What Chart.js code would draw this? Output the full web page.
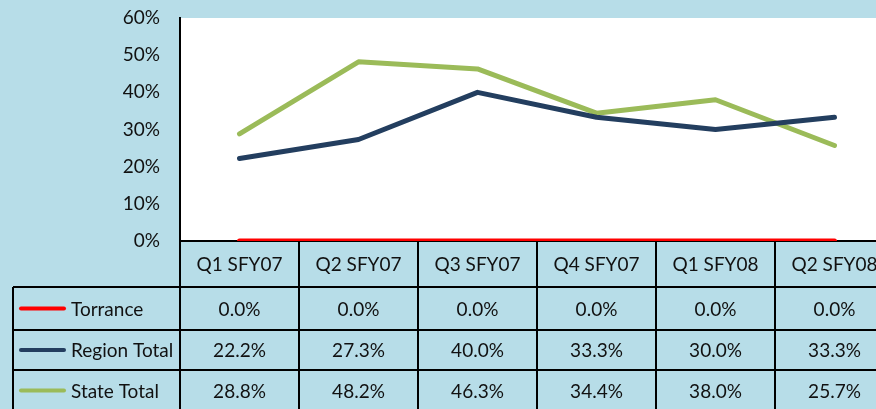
<!DOCTYPE html>
<html>
<head>
<meta charset="utf-8">
<script src="https://cdn.jsdelivr.net/npm/chart.js@4/dist/chart.umd.min.js"></script>
<style>
  html, body { margin: 0; padding: 0; background: #B7DDE8; overflow: hidden; }
  #wrap { width: 900px; height: 409px; }
</style>
</head>
<body>
<div id="wrap"><canvas id="chart" width="900" height="409"></canvas></div>
<script>
const quarters = ['Q1 SFY07', 'Q2 SFY07', 'Q3 SFY07', 'Q4 SFY07', 'Q1 SFY08', 'Q2 SFY08'];
const torrance = [0.0, 0.0, 0.0, 0.0, 0.0, 0.0];
const regionTotal = [22.2, 27.3, 40.0, 33.3, 30.0, 33.3];
const stateTotal = [28.8, 48.2, 46.3, 34.4, 38.0, 25.7];
const seriesNames = ['Torrance', 'Region Total', 'State Total'];
const seriesColors = ['#FF0000', '#233E5F', '#9BBB59'];

const FONT = 'Lato, "Open Sans", sans-serif';
const FONT_SIZE = 19;
const TEXT = '#111111';

// white plotting area on top of the blue page
const plotBackground = {
  id: 'plotBackground',
  beforeDraw(chart) {
    const { ctx, chartArea: a } = chart;
    ctx.save();
    ctx.fillStyle = '#FFFFFF';
    ctx.fillRect(a.left, a.top, a.right - a.left, a.bottom - a.top);
    ctx.restore();
  }
};

// data table under the x axis: header row with the quarters, then one row per series
const dataTable = {
  id: 'dataTable',
  afterDraw(chart) {
    const { ctx, chartArea: a, scales: { x } } = chart;
    const colW = (x.right - x.left) / quarters.length;
    const rowEdges = [a.bottom, a.bottom + 46, a.bottom + 89, a.bottom + 129, a.bottom + 170];
    const tableLeft = 13;

    ctx.save();
    ctx.strokeStyle = '#000000';
    ctx.lineWidth = 2;

    // vertical separators
    ctx.beginPath();
    for (let i = 0; i <= quarters.length; i++) {
      const px = Math.round(x.left + i * colW);
      ctx.moveTo(px, rowEdges[0]);
      ctx.lineTo(px, rowEdges[4]);
    }
    ctx.moveTo(tableLeft, rowEdges[1]);
    ctx.lineTo(tableLeft, rowEdges[4]);
    // horizontal separators
    for (let r = 1; r < rowEdges.length; r++) {
      ctx.moveTo(tableLeft, rowEdges[r]);
      ctx.lineTo(x.right, rowEdges[r]);
    }
    ctx.stroke();

    ctx.fillStyle = TEXT;
    ctx.font = FONT_SIZE + 'px ' + FONT;
    ctx.textBaseline = 'middle';
    ctx.textAlign = 'center';

    // header
    quarters.forEach((q, i) => {
      ctx.fillText(q, x.getPixelForValue(i), (rowEdges[0] + rowEdges[1]) / 2 + 1);
    });

    // series rows
    chart.data.datasets.forEach((ds, r) => {
      const cy = (rowEdges[r + 1] + rowEdges[r + 2]) / 2 + 1;
      ds.data.forEach((v, i) => {
        ctx.textAlign = 'center';
        ctx.fillText(v.toFixed(1) + '%', x.getPixelForValue(i), cy);
      });
      // legend key
      ctx.strokeStyle = ds.borderColor;
      ctx.lineWidth = 4;
      ctx.lineCap = 'round';
      ctx.beginPath();
      ctx.moveTo(21, cy - 1);
      ctx.lineTo(64, cy - 1);
      ctx.stroke();
      ctx.textAlign = 'left';
      ctx.fillText(ds.label, 71, cy);
    });
    ctx.restore();
  }
};

new Chart(document.getElementById('chart'), {
  type: 'line',
  data: {
    labels: quarters,
    datasets: [torrance, regionTotal, stateTotal].map((values, k) => ({
      label: seriesNames[k],
      data: values,
      borderColor: seriesColors[k],
      backgroundColor: seriesColors[k],
      borderWidth: 5,
      borderCapStyle: 'round',
      borderJoinStyle: 'round',
      pointRadius: 0,
      tension: 0
    }))
  },
  options: {
    responsive: false,
    animation: false,
    layout: { padding: { top: 18, right: 6, bottom: 0, left: 0 } },
    plugins: { legend: { display: false }, tooltip: { enabled: false } },
    scales: {
      x: {
        offset: true,
        grid: { display: false },
        border: { display: true, color: '#000000', width: 2 },
        ticks: { display: false },
        afterFit(scale) { scale.height = 168; }
      },
      y: {
        min: 0,
        max: 60,
        grid: { display: false },
        border: { display: true, color: '#000000', width: 2 },
        ticks: {
          stepSize: 10,
          padding: 12,
          color: TEXT,
          font: { family: FONT, size: FONT_SIZE },
          callback: v => v + '%'
        },
        afterFit(scale) {
          scale.width = 180;
          // let the top label overhang the plot edge
          scale.paddingTop = 0;
          scale.paddingBottom = 0;
        }
      }
    }
  },
  plugins: [plotBackground, dataTable]
});
</script>
</body>
</html>
